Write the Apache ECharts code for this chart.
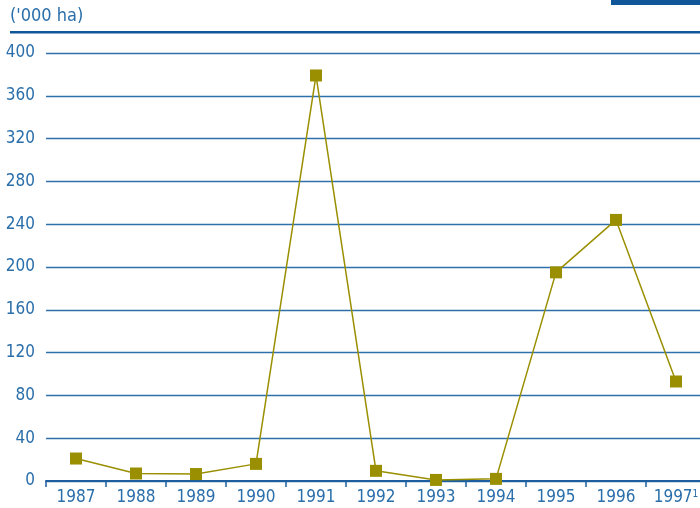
<!DOCTYPE html>
<html>
<head>
<meta charset="utf-8">
<script src="https://cdn.jsdelivr.net/npm/echarts@6/dist/echarts.min.js"></script>
<style>
	html, body { margin: 0; padding: 0; background: #fff; overflow: hidden; }
	#chart { width: 706px; height: 508px; }
</style>
</head>
<body>
<div id="chart"></div>
<script>
// 年份与面积（千公顷）
var years = ['1987', '1988', '1989', '1990', '1991', '1992', '1993', '1994', '1995', '1996', '1997'];
var areas = [21, 7, 6.5, 16, 379, 9.5, 1, 2, 195, 244, 93];
var yTicks = [0, 40, 80, 120, 160, 200, 240, 280, 320, 360, 400];

var blue = '#1c5e9e';
var labelFont = '"Liberation Sans Narrow", "DejaVu Sans Condensed", sans-serif';

var myChart = echarts.init(document.getElementById('chart'));
myChart.setOption({
	animation: false,
	grid: {
		left: 46,
		right: 0,
		top: 53,
		bottom: 27,
		containLabel: false
	},
	graphic: [
		{
			type: 'text',
			left: 10,
			top: 7,
			style: { text: "('000 ha)", fill: '#2a6eaa', font: '18px ' + labelFont }
		},
		{
			type: 'rect',
			shape: { x: 10, y: 31, width: 696, height: 2.5 },
			style: { fill: '#0f5799' }
		},
		{
			type: 'rect',
			shape: { x: 611, y: 0, width: 95, height: 5 },
			style: { fill: '#0f5799' }
		}
	],
	xAxis: {
		type: 'category',
		data: years,
		boundaryGap: true,
		axisLine: { lineStyle: { color: blue, width: 2 } },
		axisTick: { show: true, interval: 0, lineStyle: { color: blue, width: 1.5 }, length: 6 },
		axisLabel: {
			interval: 0,
			color: '#2a6eaa',
			fontSize: 17,
			fontFamily: labelFont,
			margin: 8,
			formatter: function (v) {
				return v === '1997' ? v + '{s|1}' : v;
			},
			rich: {
				s: { fontSize: 10, verticalAlign: 'top', padding: [0, 0, 8, 0], color: '#2a6eaa', fontFamily: labelFont }
			}
		}
	},
	yAxis: {
		type: 'value',
		min: yTicks[0],
		max: yTicks[yTicks.length - 1],
		interval: 40,
		axisLine: { show: false },
		axisTick: { show: false },
		axisLabel: {
			color: '#2a6eaa',
			fontSize: 17,
			fontFamily: labelFont,
			margin: 11
		},
		splitLine: { lineStyle: { color: '#2f6fac', width: 1.3 } }
	},
	series: [
		{
			type: 'line',
			data: areas,
			symbol: 'rect',
			symbolSize: 12,
			itemStyle: { color: '#9a8f00' },
			lineStyle: { color: '#9a8f00', width: 1.5 },
			z: 5
		}
	]
});
</script>
</body>
</html>
